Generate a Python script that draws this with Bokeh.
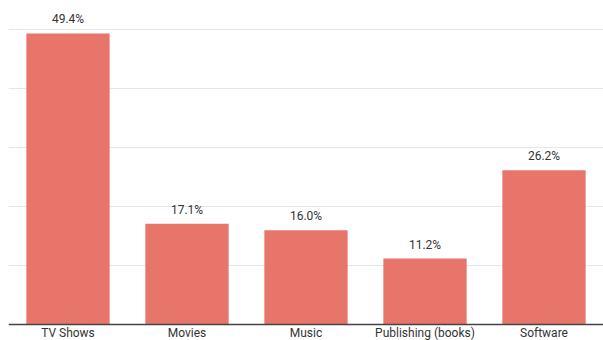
from bokeh.plotting import figure
from bokeh.models import ColumnDataSource, Range1d, FactorRange, LabelSet, SingleIntervalTicker, Span
from bokeh.core.properties import value
from bokeh.embed import file_html
from bokeh.resources import INLINE

categories = ["TV Shows", "Movies", "Music", "Publishing (books)", "Software"]
values = [49.4, 17.1, 16.0, 11.2, 26.2]
labels = ["49.4%", "17.1%", "16.0%", "11.2%", "26.2%"]

src = ColumnDataSource(dict(cat=categories, val=values, lab=labels, zero=[0] * len(categories)))

p = figure(width=603, height=340, x_range=FactorRange(factors=categories, range_padding=0),
           y_range=Range1d(-2.72, 55), output_backend="svg", toolbar_location=None,
           min_border_left=8, min_border_right=0, min_border_top=0, min_border_bottom=0)
p.outline_line_color = None
p.background_fill_color = "white"
p.border_fill_color = "white"
p.xaxis.visible = False
p.yaxis.visible = False
p.xgrid.grid_line_color = None
p.ygrid.ticker = SingleIntervalTicker(interval=10)
p.ygrid.grid_line_color = "#e6e6e6"
p.ygrid.grid_line_width = 1

p.vbar(x="cat", top="val", bottom=0, width=0.70, source=src, color="#E8756A", line_color=None)

p.add_layout(Span(location=0, dimension="width", line_color="#444444", line_width=1.5))

p.add_layout(LabelSet(x="cat", y="val", text="lab", source=src, text_align="center",
                      text_baseline="bottom", y_offset=7, text_font=value("Roboto"),
                      text_font_size="12px", text_color="#333333"))

p.add_layout(LabelSet(x="cat", y="zero", text="cat", source=src, text_align="center",
                      text_baseline="top", y_offset=-2, text_font=value("Roboto"),
                      text_font_size="12px", text_color="#333333"))

open("out.html", "w").write(file_html(p, INLINE))
